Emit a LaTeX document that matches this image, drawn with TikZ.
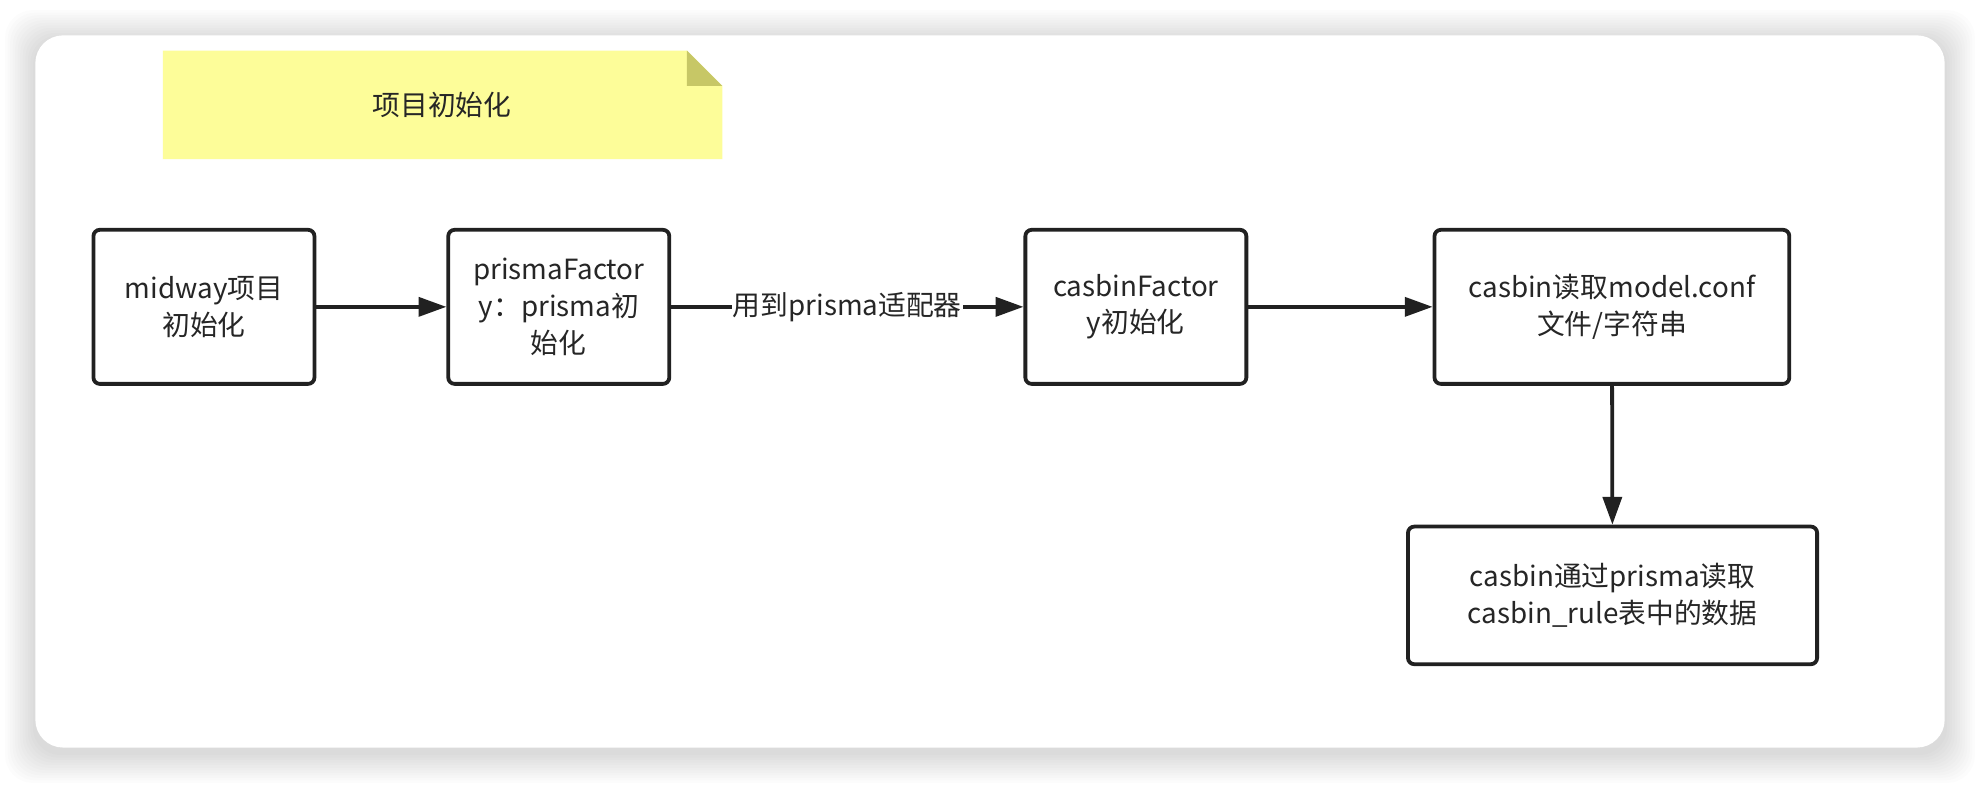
\documentclass[tikz,border=0pt]{standalone}
\usepackage{fontspec}
\setmainfont{Noto Sans CJK SC}
\usetikzlibrary{positioning,arrows.meta}

\tikzset{
  stepbox/.style={draw=black!87, line width=3pt, rounded corners=5pt, fill=white,
    align=center, inner sep=2pt, font=\fontsize{22}{29}\selectfont, text=black!85},
  flow/.style={draw=black!87, line width=3pt, -{Triangle[length=22pt,width=15pt]}},
}

\begin{document}
\begin{tikzpicture}[x=1pt,y=-1pt]
  \useasboundingbox (0,0) rectangle (1568,621);
  % card with soft shadow
  \foreach \s in {2,4,...,24}
    \fill[black, opacity=0.012, rounded corners=22pt] (28-\s,28-\s+4) rectangle (1540+\s,592+\s+4);
  \fill[white, rounded corners=22pt] (28,28) rectangle (1540,592);

  % sticky note
  \fill[fill={rgb,255:red,253;green,253;blue,153}]
    (129,40) -- (544,40) -- (572,68) -- (572,126) -- (129,126) -- cycle;
  \fill[fill={rgb,255:red,199;green,199;blue,102}] (544,40) -- (572,68) -- (544,68) -- cycle;
  \node[font=\fontsize{22}{26}\selectfont, text=black!85] (note) at (350,83) {项目初始化};

  % steps
  \node[stepbox, minimum width=175pt, minimum height=122pt] (midway) at (161.5,243) {midway项目\\初始化};
  \node[stepbox, minimum width=175pt, minimum height=122pt] (prisma) at (442.5,243) {prismaFactor\\y：prisma初\\始化};
  \node[stepbox, minimum width=175pt, minimum height=122pt] (casbin) at (899.5,243) {casbinFactor\\y初始化};
  \node[stepbox, minimum width=281pt, minimum height=122pt] (model) at (1276.5,243) {casbin读取model.conf\\文件/字符串};
  \node[stepbox, minimum width=324pt, minimum height=109pt] (rule) at (1277,471.5) {casbin通过prisma读取\\casbin\_rule表中的数据};

  \draw[flow] (midway) -- (prisma);
  \draw[flow] (prisma) -- node[fill=white, inner sep=1pt, font=\fontsize{22}{26}\selectfont, text=black!85] (adapter) {用到prisma适配器} (casbin);
  \draw[flow] (casbin) -- (model);
  \draw[flow] (model) -- (rule);
\end{tikzpicture}
\end{document}
